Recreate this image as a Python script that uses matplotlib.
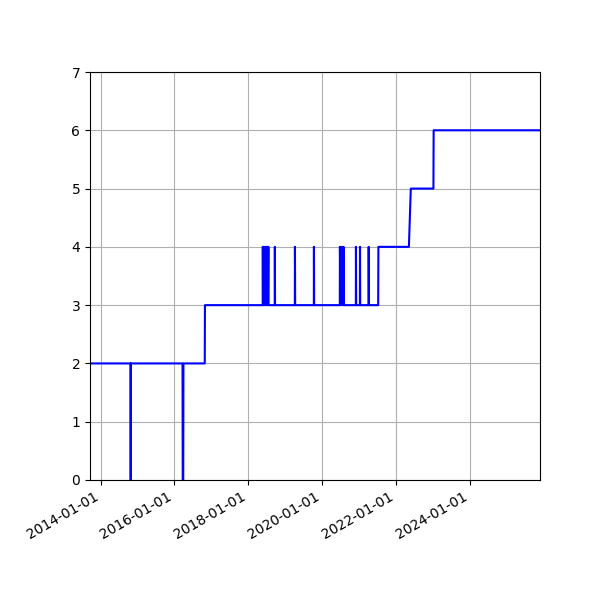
import matplotlib
matplotlib.use("Agg")
import matplotlib.pyplot as plt
import matplotlib.dates as mdates
import pandas as pd

# Sample dates and the count observed at each one
dates = [
	"2013-09-17", "2014-10-23", "2014-10-25", "2014-10-27",
	"2016-03-21", "2016-03-23", "2016-03-28", "2016-03-30",
	"2016-10-27", "2016-10-29",
	# spikes to 4
	"2018-05-24", "2018-05-25", "2018-05-27",
	"2018-06-02", "2018-06-04", "2018-06-10", "2018-06-12",
	"2018-06-18", "2018-06-20", "2018-06-26", "2018-06-28",
	"2018-07-04", "2018-07-06", "2018-07-12", "2018-07-14",
	"2018-07-19", "2018-07-21",
	"2018-09-20", "2018-09-21", "2018-09-23",
	"2019-04-07", "2019-04-08", "2019-04-10",
	"2019-10-12", "2019-10-13", "2019-10-15",
	"2020-06-25", "2020-06-26", "2020-07-05", "2020-07-07",
	"2020-07-16", "2020-07-18", "2020-07-30", "2020-08-01",
	"2020-08-02",
	"2020-12-01", "2020-12-02", "2020-12-04",
	"2021-01-10", "2021-01-11", "2021-01-13",
	"2021-04-06", "2021-04-07", "2021-04-09",
	"2021-07-10", "2021-07-12",
	"2022-05-10", "2022-05-29",
	"2023-01-08", "2023-01-10",
	"2025-11-28",
]
counts = [
	2, 2, 0, 2,
	2, 0, 0, 2,
	2, 3,
	3, 4, 3,
	4, 3, 4, 3,
	4, 3, 4, 3,
	4, 3, 4, 3,
	4, 3,
	3, 4, 3,
	3, 4, 3,
	3, 4, 3,
	3, 4, 3, 4,
	3, 4, 3, 4,
	3,
	3, 4, 3,
	3, 4, 3,
	3, 4, 3,
	3, 4,
	4, 5,
	5, 6,
	6,
]

x = pd.to_datetime(dates)

fig, ax = plt.subplots(figsize=(6, 6), dpi=100)
ax.plot(x, counts, color="blue", linewidth=1.5)

ax.set_xlim(x[0], x[-1])
ax.set_ylim(0, 7)
ax.grid(True)

ax.xaxis.set_major_locator(mdates.YearLocator(2))
ax.xaxis.set_major_formatter(mdates.DateFormatter("%Y-%m-%d"))
fig.autofmt_xdate()
fig.subplots_adjust(left=0.15, right=0.9, top=0.88, bottom=0.2)

plt.savefig("out.png")
